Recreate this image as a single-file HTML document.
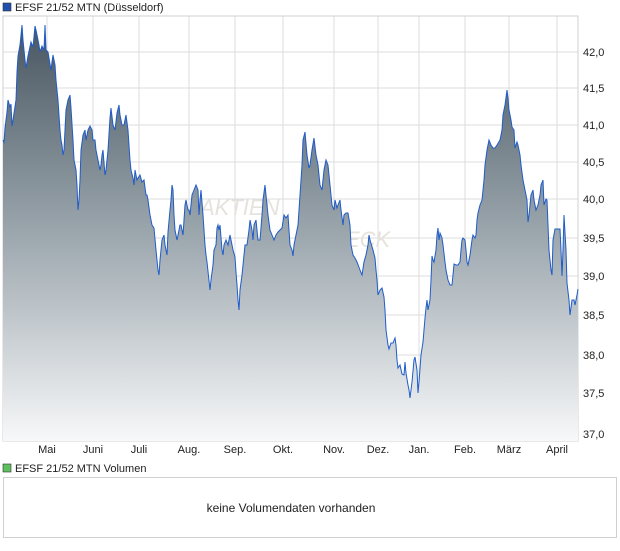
<!DOCTYPE html>
<html><head><meta charset="utf-8"><style>
body{margin:0;background:#fff;width:620px;height:546px;overflow:hidden;font-family:"Liberation Sans",sans-serif;}
</style></head><body>
<svg width="620" height="546" viewBox="0 0 620 546" xmlns="http://www.w3.org/2000/svg" font-family="Liberation Sans, sans-serif">
<defs>
<linearGradient id="g" gradientUnits="userSpaceOnUse" x1="0" y1="20" x2="0" y2="441">
<stop offset="0" stop-color="#46545f"/>
<stop offset="0.5" stop-color="#9aa5ac"/>
<stop offset="1" stop-color="#f7f8f9"/>
</linearGradient>
</defs>
<rect x="3" y="3" width="8" height="8" fill="#1f50b0" stroke="#333" stroke-width="0.6"/>
<text x="15" y="11" font-size="11" fill="#222">EFSF 21/52 MTN (Düsseldorf)</text>
<g stroke="#dcdcdc" stroke-width="1">
<line x1="3" y1="52" x2="578" y2="52"/><line x1="3" y1="88" x2="578" y2="88"/><line x1="3" y1="125" x2="578" y2="125"/><line x1="3" y1="162" x2="578" y2="162"/><line x1="3" y1="199" x2="578" y2="199"/><line x1="3" y1="238" x2="578" y2="238"/><line x1="3" y1="276" x2="578" y2="276"/><line x1="3" y1="315" x2="578" y2="315"/><line x1="3" y1="355" x2="578" y2="355"/><line x1="3" y1="393" x2="578" y2="393"/><line x1="3" y1="434" x2="578" y2="434"/>
<line x1="47" y1="16" x2="47" y2="441"/><line x1="93" y1="16" x2="93" y2="441"/><line x1="139" y1="16" x2="139" y2="441"/><line x1="189" y1="16" x2="189" y2="441"/><line x1="235" y1="16" x2="235" y2="441"/><line x1="283" y1="16" x2="283" y2="441"/><line x1="334" y1="16" x2="334" y2="441"/><line x1="378" y1="16" x2="378" y2="441"/><line x1="419" y1="16" x2="419" y2="441"/><line x1="465" y1="16" x2="465" y2="441"/><line x1="509" y1="16" x2="509" y2="441"/><line x1="557" y1="16" x2="557" y2="441"/>
</g>
<rect x="3" y="16" width="575" height="425" fill="none" stroke="#d0d0d0"/>
<text x="200" y="215" font-size="22" fill="#e6e2dc" font-style="italic">AKTIEN</text>
<text x="345" y="247" font-size="22" fill="#e6e2dc" font-style="italic">ECK</text>
<polygon fill="url(#g)" points="3,441 3,140 4,142 5,128 7,112 8,100 10,107 11,104 12,126 13,120 16,100 17,72 18,56 20,45 22,25 23,40 25,60 26,68 28,56 31,42 33,47 35,26 36,30 39,45 40,52 42,46 44,50 45,25 46,50 48,52 50,64 51,70 52,62 53,55 55,65 56,80 58,100 60,130 61,140 62,145 63,155 64,150 66,110 68,100 70,95 71,108 73,140 74,160 76,170 77,185 78,210 79,200 80,180 81,150 83,135 85,130 86,140 88,130 90,126 92,130 93,140 95,140 96,150 98,160 100,170 101,165 102,155 103,150 105,175 106,170 108,150 110,118 111,108 113,125 115,130 117,113 119,105 120,115 122,125 124,125 126,115 128,130 130,160 131,170 133,178 134,185 135,170 137,180 138,178 140,175 142,182 144,180 146,195 147,195 148,200 150,215 152,225 154,228 156,250 157,260 158,270 159,275 160,260 162,240 164,235 165,245 167,255 168,232 170,210 171,200 172,185 173,190 174,215 175,230 177,240 178,235 180,225 181,225 182,230 183,235 185,205 186,200 188,210 189,210 190,215 192,195 194,190 196,185 198,190 199,215 200,200 201,190 203,215 205,245 206,255 207,262 210,290 211,280 213,265 214,250 216,245 217,228 218,225 219,230 220,225 222,250 223,255 224,245 226,240 228,245 230,235 233,250 235,257 236,272 237,285 238,300 239,310 240,290 242,275 243,265 245,245 247,245 249,230 250,220 252,230 253,240 254,225 256,220 258,240 260,240 262,215 263,200 265,185 266,195 268,215 270,230 272,235 274,240 276,235 278,232 280,230 282,228 284,215 286,218 288,215 290,245 292,250 293,256 294,245 296,235 298,225 300,195 302,165 303,140 305,132 307,155 309,168 310,165 312,150 314,138 316,155 318,165 320,185 322,190 324,170 326,160 328,165 330,185 331,195 332,205 334,210 335,200 337,208 338,205 340,200 341,210 343,225 344,215 346,213 348,213 350,225 351,245 353,255 355,258 357,262 360,270 362,275 364,262 366,255 368,245 369,235 370,240 373,250 375,258 376,270 377,280 378,295 380,290 382,288 384,297 385,310 386,330 388,345 389,349 391,343 393,343 395,338 396,345 397,360 398,368 400,365 402,374 404,375 405,362 406,373 408,385 409,390 410,398 412,382 414,360 415,357 417,370 418,393 419,382 421,355 423,342 424,330 425,318 426,308 427,300 428,310 430,300 431,280 432,256 433,260 434,262 436,250 437,235 438,228 439,240 440,233 442,238 443,245 445,262 446,270 448,280 450,285 452,285 453,275 454,264 456,265 458,265 460,262 461,250 462,240 463,238 465,240 466,250 467,262 468,265 470,255 472,240 473,235 475,238 476,235 477,220 478,213 480,205 482,200 484,180 485,165 487,150 489,140 491,145 493,148 495,148 497,145 500,140 502,130 503,115 505,105 507,90 508,98 509,110 511,120 512,127 514,130 515,148 517,142 518,145 520,155 521,165 523,180 525,190 527,200 528,222 529,215 531,195 533,190 534,200 536,210 538,205 540,195 541,185 543,180 544,205 546,199 547,200 548,225 549,250 551,270 552,275 553,240 555,229 558,229 560,229 561,250 562,276 563,250 564,215 566,250 567,283 569,300 570,315 572,300 574,300 575,305 577,295 578,289 578,441"/>
<polyline fill="none" stroke="#1f5cc8" stroke-width="1" points="3,140 4,142 5,128 7,112 8,100 10,107 11,104 12,126 13,120 16,100 17,72 18,56 20,45 22,25 23,40 25,60 26,68 28,56 31,42 33,47 35,26 36,30 39,45 40,52 42,46 44,50 45,25 46,50 48,52 50,64 51,70 52,62 53,55 55,65 56,80 58,100 60,130 61,140 62,145 63,155 64,150 66,110 68,100 70,95 71,108 73,140 74,160 76,170 77,185 78,210 79,200 80,180 81,150 83,135 85,130 86,140 88,130 90,126 92,130 93,140 95,140 96,150 98,160 100,170 101,165 102,155 103,150 105,175 106,170 108,150 110,118 111,108 113,125 115,130 117,113 119,105 120,115 122,125 124,125 126,115 128,130 130,160 131,170 133,178 134,185 135,170 137,180 138,178 140,175 142,182 144,180 146,195 147,195 148,200 150,215 152,225 154,228 156,250 157,260 158,270 159,275 160,260 162,240 164,235 165,245 167,255 168,232 170,210 171,200 172,185 173,190 174,215 175,230 177,240 178,235 180,225 181,225 182,230 183,235 185,205 186,200 188,210 189,210 190,215 192,195 194,190 196,185 198,190 199,215 200,200 201,190 203,215 205,245 206,255 207,262 210,290 211,280 213,265 214,250 216,245 217,228 218,225 219,230 220,225 222,250 223,255 224,245 226,240 228,245 230,235 233,250 235,257 236,272 237,285 238,300 239,310 240,290 242,275 243,265 245,245 247,245 249,230 250,220 252,230 253,240 254,225 256,220 258,240 260,240 262,215 263,200 265,185 266,195 268,215 270,230 272,235 274,240 276,235 278,232 280,230 282,228 284,215 286,218 288,215 290,245 292,250 293,256 294,245 296,235 298,225 300,195 302,165 303,140 305,132 307,155 309,168 310,165 312,150 314,138 316,155 318,165 320,185 322,190 324,170 326,160 328,165 330,185 331,195 332,205 334,210 335,200 337,208 338,205 340,200 341,210 343,225 344,215 346,213 348,213 350,225 351,245 353,255 355,258 357,262 360,270 362,275 364,262 366,255 368,245 369,235 370,240 373,250 375,258 376,270 377,280 378,295 380,290 382,288 384,297 385,310 386,330 388,345 389,349 391,343 393,343 395,338 396,345 397,360 398,368 400,365 402,374 404,375 405,362 406,373 408,385 409,390 410,398 412,382 414,360 415,357 417,370 418,393 419,382 421,355 423,342 424,330 425,318 426,308 427,300 428,310 430,300 431,280 432,256 433,260 434,262 436,250 437,235 438,228 439,240 440,233 442,238 443,245 445,262 446,270 448,280 450,285 452,285 453,275 454,264 456,265 458,265 460,262 461,250 462,240 463,238 465,240 466,250 467,262 468,265 470,255 472,240 473,235 475,238 476,235 477,220 478,213 480,205 482,200 484,180 485,165 487,150 489,140 491,145 493,148 495,148 497,145 500,140 502,130 503,115 505,105 507,90 508,98 509,110 511,120 512,127 514,130 515,148 517,142 518,145 520,155 521,165 523,180 525,190 527,200 528,222 529,215 531,195 533,190 534,200 536,210 538,205 540,195 541,185 543,180 544,205 546,199 547,200 548,225 549,250 551,270 552,275 553,240 555,229 558,229 560,229 561,250 562,276 563,250 564,215 566,250 567,283 569,300 570,315 572,300 574,300 575,305 577,295 578,289"/>
<g font-size="11" fill="#222">
<text x="583" y="56">42,0</text><text x="583" y="92">41,5</text><text x="583" y="129">41,0</text><text x="583" y="166">40,5</text><text x="583" y="203">40,0</text><text x="583" y="242">39,5</text><text x="583" y="280">39,0</text><text x="583" y="319">38,5</text><text x="583" y="359">38,0</text><text x="583" y="397">37,5</text><text x="583" y="438">37,0</text>
</g>
<g font-size="11" fill="#222" text-anchor="middle">
<text x="47" y="453">Mai</text><text x="93" y="453">Juni</text><text x="139" y="453">Juli</text><text x="189" y="453">Aug.</text><text x="235" y="453">Sep.</text><text x="283" y="453">Okt.</text><text x="334" y="453">Nov.</text><text x="378" y="453">Dez.</text><text x="419" y="453">Jan.</text><text x="465" y="453">Feb.</text><text x="509" y="453">März</text><text x="557" y="453">April</text>
</g>
<rect x="3" y="464" width="8" height="8" fill="#5cc05c" stroke="#333" stroke-width="0.6"/>
<text x="15" y="472" font-size="11" fill="#222">EFSF 21/52 MTN Volumen</text>
<rect x="3.5" y="477.5" width="613" height="60" fill="#fff" stroke="#d0d0d0"/>
<text x="291" y="512" font-size="12" fill="#222" text-anchor="middle">keine Volumendaten vorhanden</text>
</svg>
</body></html>
